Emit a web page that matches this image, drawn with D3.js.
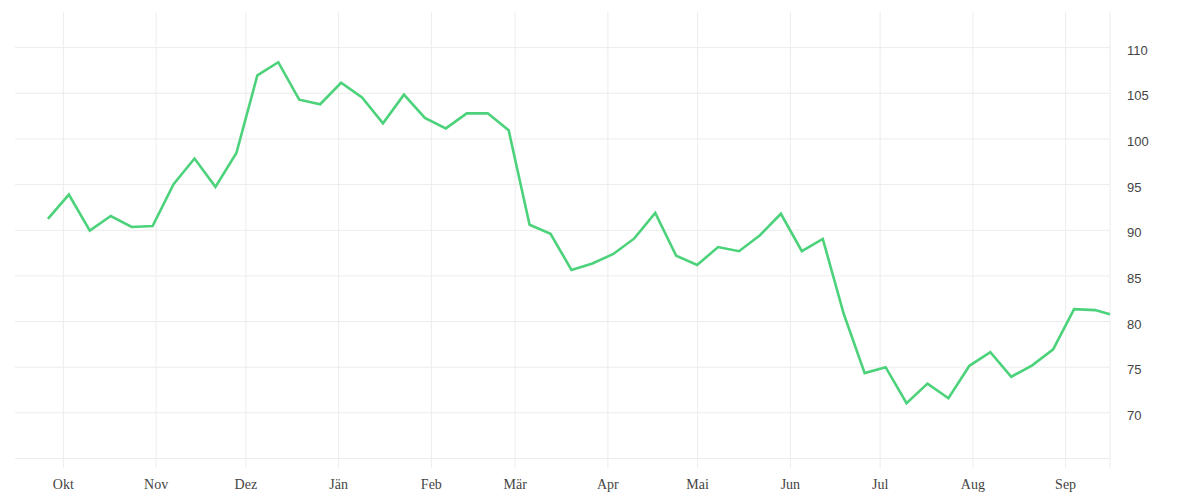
<!DOCTYPE html>
<html>
<head>
<meta charset="utf-8">
<script src="https://cdn.jsdelivr.net/npm/d3@7"></script>
<style>
  body { margin: 0; background: #fff; }
  .grid line { stroke: #ececec; stroke-width: 1; }
  .grid path { display: none; }
  .x-axis text { font-family: "Liberation Serif", serif; font-size: 14px; fill: #444; }
  .y-axis text { font-family: "Liberation Sans", sans-serif; font-size: 13px; fill: #444; }
</style>
</head>
<body>
<div id="chart"></div>
<script>
// weekly readings
const dates = [
  "2022-09-26", "2022-10-03", "2022-10-10", "2022-10-17", "2022-10-24", "2022-10-31",
  "2022-11-07", "2022-11-14", "2022-11-21", "2022-11-28", "2022-12-05", "2022-12-12",
  "2022-12-19", "2022-12-26", "2023-01-02", "2023-01-09", "2023-01-16", "2023-01-23",
  "2023-01-30", "2023-02-06", "2023-02-13", "2023-02-20", "2023-02-27", "2023-03-06",
  "2023-03-13", "2023-03-20", "2023-03-27", "2023-04-03", "2023-04-10", "2023-04-17",
  "2023-04-24", "2023-05-01", "2023-05-08", "2023-05-15", "2023-05-22", "2023-05-29",
  "2023-06-05", "2023-06-12", "2023-06-19", "2023-06-26", "2023-07-03", "2023-07-10",
  "2023-07-17", "2023-07-24", "2023-07-31", "2023-08-07", "2023-08-14", "2023-08-21",
  "2023-08-28", "2023-09-04", "2023-09-11", "2023-09-16"
];
const values = [
  91.2, 93.85, 89.9, 91.5, 90.3, 90.4, 95.0, 97.8, 94.7, 98.4,
  106.9, 108.35, 104.25, 103.75, 106.1, 104.5, 101.65, 104.8, 102.25, 101.1,
  102.75, 102.75, 100.9, 90.55, 89.55, 85.6, 86.3, 87.35, 89.05, 91.85,
  87.15, 86.15, 88.1, 87.65, 89.4, 91.75, 87.65, 89.0, 80.8, 74.3,
  74.95, 71.0, 73.15, 71.55, 75.1, 76.6, 73.9, 75.15, 76.9, 81.3,
  81.2, 80.75
];
const monthLabels = ["Okt", "Nov", "Dez", "Jän", "Feb", "Mär", "Apr", "Mai", "Jun", "Jul", "Aug", "Sep"];
const yTicks = [65, 70, 75, 80, 85, 90, 95, 100, 105, 110];

const width = 1200, height = 500;
const plot = { left: 15, right: 1110, top: 12, bottom: 458 };

const parse = d3.timeParse("%Y-%m-%d");
const data = dates.map((d, i) => ({ date: parse(d), value: values[i] }));

const svg = d3.select("#chart").append("svg")
    .attr("width", width)
    .attr("height", height);

const x = d3.scaleTime()
    .domain([new Date(2022, 8, 15), new Date(2023, 8, 16)])
    .range([plot.left, plot.right]);

const y = d3.scaleLinear()
    .domain([65, 113.85])
    .range([plot.bottom, plot.top]);

// horizontal grid + right labels
svg.append("g")
    .attr("class", "grid y-axis")
    .attr("transform", `translate(${plot.right},0)`)
    .call(d3.axisRight(y)
        .tickValues(yTicks)
        .tickSize(-(plot.right - plot.left))
        .tickPadding(17)
        .tickFormat(d => d === 65 ? "" : d))
    .call(g => g.selectAll("text").attr("dy", "0.55em"));

// vertical grid + month labels
const monthTicks = d3.timeMonth.range(new Date(2022, 9, 1), new Date(2023, 8, 2));
svg.append("g")
    .attr("class", "grid x-axis")
    .attr("transform", `translate(0,${plot.bottom + 10})`)
    .call(d3.axisBottom(x)
        .tickValues(monthTicks)
        .tickSize(-(plot.bottom + 10 - plot.top))
        .tickPadding(11)
        .tickFormat((d, i) => monthLabels[i]));

// right border
svg.append("line")
    .attr("x1", plot.right).attr("x2", plot.right)
    .attr("y1", plot.top).attr("y2", plot.bottom + 10)
    .attr("stroke", "#ececec");

const line = d3.line()
    .x(d => x(d.date))
    .y(d => y(d.value));

svg.append("path")
    .datum(data)
    .attr("fill", "none")
    .attr("stroke", "#4cd27a")
    .attr("stroke-width", 2.6)
    .attr("stroke-linejoin", "miter")
    .attr("d", line);
</script>
</body>
</html>
